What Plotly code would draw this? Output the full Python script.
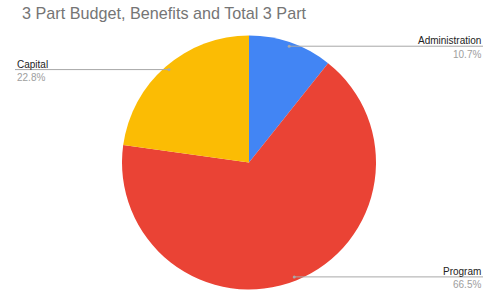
import math
import plotly.graph_objects as go

labels = ["Administration", "Program", "Capital"]
values = [10.7, 66.5, 22.8]
colors = ["#4285F4", "#EA4335", "#FBBC04"]
label_side = ["right", "right", "left"]

W, H = 489, 293
cx, cy, r = 249, 162.5, 127   # pie centre/radius in px

fig = go.Figure(go.Pie(
    labels=labels, values=values, sort=False, direction="clockwise", rotation=0,
    marker=dict(colors=colors, line=dict(width=0)),
    textinfo="none", showlegend=False,
    domain=dict(x=[(cx - r) / W, (cx + r) / W], y=[(H - cy - r) / H, (H - cy + r) / H]),
))

total = sum(values)
cum = 0
shapes, annotations = [], []
for lab, v, side in zip(labels, values, label_side):
    mid = (cum + v / 2) / total * 2 * math.pi
    cum += v
    px = cx + 0.96 * r * math.sin(mid)
    py = cy - 0.97 * r * math.cos(mid)
    if side == "right":
        x_end = 483
        anchor = "right"
    else:
        x_end = 15
        anchor = "left"
    shapes.append(dict(type="line", xref="paper", yref="paper",
                       x0=px / W, y0=1 - py / H, x1=x_end / W, y1=1 - py / H,
                       line=dict(color="#a8a8a8", width=1)))
    shapes.append(dict(type="circle", xref="paper", yref="paper",
                       x0=(px - 1.5) / W, x1=(px + 1.5) / W,
                       y0=1 - (py + 1.5) / H, y1=1 - (py - 1.5) / H,
                       fillcolor="#a8a8a8", line=dict(width=0)))
    pct = v / total * 100
    annotations.append(dict(xref="paper", yref="paper", x=x_end / W, y=1 - (py + 2) / H,
                            xanchor=anchor, yanchor="bottom", showarrow=False,
                            text=lab, align=anchor,
                            font=dict(family="Arial", size=10, color="#222222")))
    annotations.append(dict(xref="paper", yref="paper", x=x_end / W, y=1 - (py + 0.5) / H,
                            xanchor=anchor, yanchor="top", showarrow=False,
                            text=f"{pct:.1f}%", align=anchor,
                            font=dict(family="Arial", size=10, color="#9e9e9e")))

fig.update_layout(
    width=W, height=H, margin=dict(l=0, r=0, t=0, b=0),
    paper_bgcolor="white", plot_bgcolor="white",
    title=dict(text="3 Part Budget, Benefits and Total 3 Part", x=22 / W, xanchor="left",
               y=1 - 13.5 / H, yanchor="middle",
               font=dict(family="Arial", size=16.2, color="#757575")),
    shapes=shapes, annotations=annotations,
)
fig.write_html("out.html", config={"displayModeBar": False},
               post_script="document.body.style.margin='0';document.body.style.overflow='hidden';")
